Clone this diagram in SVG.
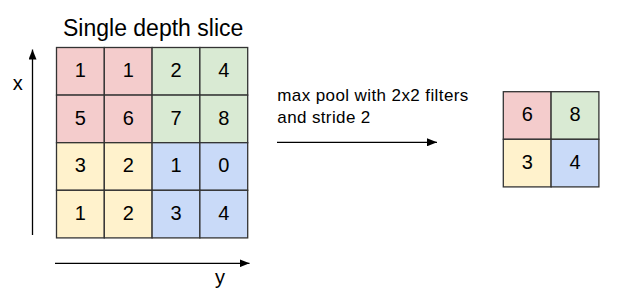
<svg xmlns="http://www.w3.org/2000/svg" width="639" height="296" viewBox="0 0 639 296">
<style>
text{font-family:"Liberation Sans",Arial,sans-serif;fill:#000}
.d{font-size:20px;text-anchor:middle}
.c{stroke:#333;stroke-width:1.3}
.r{fill:#f4cccc}.g{fill:#d9ead3}.y{fill:#fff2cc}.b{fill:#c9daf8}
.ln{stroke:#000;stroke-width:1.3;fill:none}
</style>
<defs>
<marker id="ah" viewBox="0 0 10 8" refX="10" refY="4" markerWidth="10" markerHeight="8" markerUnits="userSpaceOnUse" orient="auto">
<path d="M0,0 L10,4 L0,8 Z" fill="#000"/>
</marker>
</defs>
<rect width="639" height="296" fill="#fff"/>
<text x="63" y="36" font-size="23">Single depth slice</text>
<g id="input-grid">
<rect class="c r" x="56.5" y="47.5" width="47.8" height="47.6"/>
<rect class="c r" x="104.3" y="47.5" width="47.8" height="47.6"/>
<rect class="c g" x="152.1" y="47.5" width="47.8" height="47.6"/>
<rect class="c g" x="199.9" y="47.5" width="47.8" height="47.6"/>
<rect class="c r" x="56.5" y="95.1" width="47.8" height="47.6"/>
<rect class="c r" x="104.3" y="95.1" width="47.8" height="47.6"/>
<rect class="c g" x="152.1" y="95.1" width="47.8" height="47.6"/>
<rect class="c g" x="199.9" y="95.1" width="47.8" height="47.6"/>
<rect class="c y" x="56.5" y="142.7" width="47.8" height="47.6"/>
<rect class="c y" x="104.3" y="142.7" width="47.8" height="47.6"/>
<rect class="c b" x="152.1" y="142.7" width="47.8" height="47.6"/>
<rect class="c b" x="199.9" y="142.7" width="47.8" height="47.6"/>
<rect class="c y" x="56.5" y="190.3" width="47.8" height="47.6"/>
<rect class="c y" x="104.3" y="190.3" width="47.8" height="47.6"/>
<rect class="c b" x="152.1" y="190.3" width="47.8" height="47.6"/>
<rect class="c b" x="199.9" y="190.3" width="47.8" height="47.6"/>
<text class="d" x="80.4" y="77">1</text>
<text class="d" x="128.2" y="77">1</text>
<text class="d" x="176" y="77">2</text>
<text class="d" x="223.8" y="77">4</text>
<text class="d" x="80.4" y="124.6">5</text>
<text class="d" x="128.2" y="124.6">6</text>
<text class="d" x="176" y="124.6">7</text>
<text class="d" x="223.8" y="124.6">8</text>
<text class="d" x="80.4" y="172.2">3</text>
<text class="d" x="128.2" y="172.2">2</text>
<text class="d" x="176" y="172.2">1</text>
<text class="d" x="223.8" y="172.2">0</text>
<text class="d" x="80.4" y="219.8">1</text>
<text class="d" x="128.2" y="219.8">2</text>
<text class="d" x="176" y="219.8">3</text>
<text class="d" x="223.8" y="219.8">4</text>
</g>
<g id="output-grid">
<rect class="c r" x="503.3" y="91.7" width="47.8" height="47.6"/>
<rect class="c g" x="551.1" y="91.7" width="47.8" height="47.6"/>
<rect class="c y" x="503.3" y="139.3" width="47.8" height="47.6"/>
<rect class="c b" x="551.1" y="139.3" width="47.8" height="47.6"/>
<text class="d" x="527.2" y="121.2">6</text>
<text class="d" x="575" y="121.2">8</text>
<text class="d" x="527.2" y="168.8">3</text>
<text class="d" x="575" y="168.8">4</text>
</g>
<g id="connectors">
<line class="ln" x1="32.5" y1="235" x2="32.5" y2="49.5" marker-end="url(#ah)"/>
<line class="ln" x1="55" y1="263.3" x2="249.5" y2="263.3" marker-end="url(#ah)"/>
<line class="ln" x1="277" y1="142.3" x2="437" y2="142.3" marker-end="url(#ah)"/>
</g>
<g id="labels">
<text x="17.7" y="90" font-size="20" text-anchor="middle">x</text>
<text x="220" y="284" font-size="20" text-anchor="middle">y</text>
<text x="277.3" y="100.7" font-size="17" textLength="191" lengthAdjust="spacing">max pool with 2x2 filters</text>
<text x="277.3" y="122.7" font-size="17" textLength="93" lengthAdjust="spacing">and stride 2</text>
</g>
</svg>
